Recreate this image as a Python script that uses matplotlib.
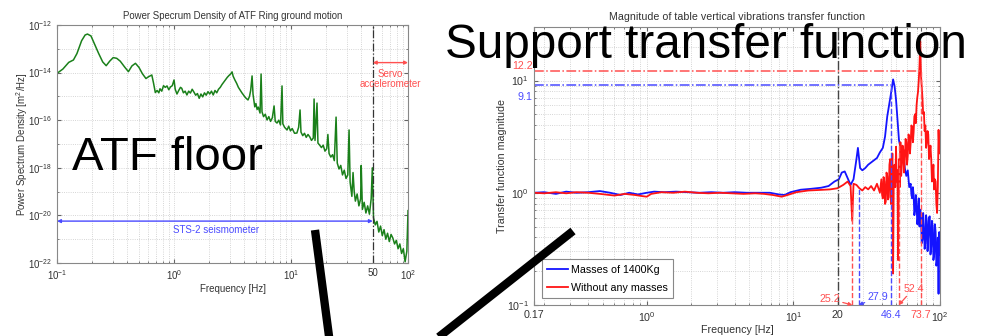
import numpy as np
import matplotlib
matplotlib.use("Agg")
from matplotlib import pyplot as plt
from matplotlib.lines import Line2D
from matplotlib.ticker import LogLocator, NullFormatter, FixedLocator

plt.rcParams['font.family'] = ['Liberation Sans', 'DejaVu Sans']
plt.rcParams['mathtext.default'] = 'regular'

# --- lewy wykres: widmo gestosci mocy ruchu podloza (log10 f, log10 PSD) ---
psd_logf = [-1.00, -0.95, -0.90, -0.86, -0.83, -0.79, -0.76, -0.74, -0.71, -0.68,
            -0.645, -0.61, -0.58, -0.55, -0.52, -0.49, -0.46, -0.42, -0.39, -0.36,
            -0.33, -0.30, -0.27, -0.24, -0.22, -0.19, -0.175, -0.16, -0.145, -0.13,
            -0.12, -0.105, -0.09, -0.075, -0.06, -0.045, -0.03, -0.015, 0.0, 0.01,
            0.025, 0.04, 0.055, 0.066, 0.08, 0.095, 0.11, 0.125, 0.14, 0.155,
            0.17, 0.185, 0.20, 0.215, 0.23, 0.245, 0.26, 0.275, 0.29, 0.305,
            0.32, 0.335, 0.35, 0.365, 0.38, 0.395, 0.41, 0.425, 0.44, 0.455,
            0.47, 0.485, 0.496, 0.505, 0.52, 0.535, 0.55, 0.564, 0.58, 0.595,
            0.61, 0.632, 0.645, 0.655, 0.667, 0.675, 0.69, 0.70, 0.71, 0.72,
            0.735, 0.744, 0.752, 0.765, 0.78, 0.795, 0.81, 0.825, 0.84, 0.855,
            0.865, 0.88, 0.895, 0.91, 0.923, 0.93, 0.945, 0.966, 0.98, 0.995,
            1.01, 1.03, 1.05, 1.065, 1.077, 1.085, 1.10, 1.115, 1.13, 1.145,
            1.16, 1.175, 1.19, 1.197, 1.205, 1.222, 1.23, 1.245, 1.26, 1.275,
            1.29, 1.305, 1.315, 1.325, 1.34, 1.355, 1.37, 1.385, 1.395, 1.41,
            1.425, 1.44, 1.455, 1.47, 1.485, 1.496, 1.505, 1.52, 1.53, 1.54,
            1.55, 1.565, 1.58, 1.595, 1.60, 1.61, 1.625, 1.64, 1.655, 1.67,
            1.685, 1.695, 1.705, 1.72, 1.735, 1.75, 1.765, 1.78, 1.795, 1.81,
            1.825, 1.84, 1.855, 1.87, 1.885, 1.90, 1.915, 1.93, 1.945, 1.96,
            1.975, 1.99, 2.00]
psd_logval = [-14.03, -13.85, -13.57, -13.47, -13.20, -12.66, -12.42, -12.38, -12.46, -12.80,
              -13.19, -13.55, -13.71, -13.52, -13.37, -13.40, -13.52, -13.78, -13.96, -13.72,
              -13.61, -13.78, -14.05, -14.25, -14.18, -14.10, -14.45, -14.84, -14.75, -14.85,
              -14.68, -14.78, -14.55, -14.62, -14.56, -14.72, -14.60, -14.55, -14.31, -14.70,
              -14.90, -14.75, -14.62, -14.66, -14.85, -14.78, -14.94, -14.78, -14.86, -14.70,
              -14.82, -14.95, -14.88, -15.08, -14.90, -15.02, -14.85, -14.95, -14.80, -14.90,
              -14.78, -14.94, -14.75, -14.85, -14.70, -14.62, -14.50, -14.40, -14.30, -14.20,
              -14.12, -14.05, -13.97, -14.15, -14.31, -14.45, -14.62, -14.73, -14.85, -14.95,
              -15.05, -15.15, -15.00, -14.75, -14.14, -14.90, -15.44, -15.30, -15.55, -15.45,
              -15.70, -14.06, -15.65, -15.85, -15.75, -15.99, -15.85, -16.05, -15.90, -15.40,
              -16.05, -16.12, -16.00, -16.20, -14.56, -16.15, -16.30, -16.41, -16.25, -16.45,
              -16.35, -16.55, -16.54, -16.30, -15.57, -16.50, -16.65, -16.55, -16.72, -16.60,
              -16.70, -16.85, -16.75, -15.11, -16.85, -15.28, -16.96, -17.05, -17.15, -17.05,
              -17.30, -17.20, -16.60, -17.40, -17.55, -17.45, -17.70, -15.87, -17.80, -18.05,
              -17.90, -18.30, -18.10, -18.45, -18.30, -16.41, -18.60, -19.20, -18.20, -19.00,
              -19.40, -19.10, -19.60, -19.30, -17.90, -19.75, -19.45, -19.90, -19.60, -19.95,
              -19.30, -18.00, -20.10, -20.40, -20.25, -20.70, -20.45, -20.85, -20.60, -21.00,
              -20.75, -21.10, -20.80, -20.95, -21.20, -21.05, -21.40, -21.20, -21.60, -21.40,
              -21.95, -21.50, -19.80]

# --- prawy wykres: funkcja przenoszenia stolu (log10 f, log10 |H|) ---
blue_logf = [-0.77, -0.70, -0.62, -0.55, -0.48, -0.40, -0.32, -0.25, -0.18, -0.12,
             -0.06, 0.00, 0.05, 0.12, 0.20, 0.28, 0.36, 0.44, 0.52, 0.60,
             0.68, 0.76, 0.84, 0.90, 0.94, 0.98, 1.05, 1.12, 1.19, 1.24,
             1.28, 1.31, 1.33, 1.35, 1.37, 1.39, 1.41, 1.43, 1.44, 1.455,
             1.47, 1.49, 1.51, 1.53, 1.55, 1.57, 1.59, 1.61, 1.625, 1.64,
             1.655, 1.67, 1.68, 1.69, 1.70, 1.71, 1.72, 1.73, 1.74, 1.75,
             1.76, 1.77, 1.78, 1.79, 1.800, 1.805, 1.810, 1.815, 1.820, 1.825,
             1.830, 1.835, 1.840, 1.845, 1.850, 1.855, 1.860, 1.865, 1.870, 1.875,
             1.880, 1.885, 1.890, 1.895, 1.900, 1.905, 1.910, 1.915, 1.920, 1.925,
             1.930, 1.935, 1.940, 1.945, 1.950, 1.955, 1.960, 1.965, 1.970, 1.975,
             1.980, 1.985, 1.990, 1.995, 2.000]
blue_logmag = [0.00, 0.005, -0.01, 0.01, 0.00, 0.005, 0.015, 0.00, -0.02, 0.00,
               -0.015, 0.00, 0.01, 0.005, 0.01, 0.005, 0.00, 0.005, 0.00, 0.005,
               0.00, 0.00, 0.00, -0.015, -0.02, 0.005, 0.027, 0.035, 0.045, 0.06,
               0.10, 0.12, 0.18, 0.19, 0.13, 0.07, 0.12, 0.30, 0.40, 0.22,
               0.20, 0.22, 0.25, 0.27, 0.29, 0.31, 0.36, 0.40, 0.50, 0.68,
               0.80, 0.92, 1.01, 0.95, 0.83, 0.65, 0.47, 0.40, 0.30, 0.35,
               0.22, 0.15, 0.20, 0.05, 0.08, -0.02, -0.05, 0.05, -0.02, -0.20,
               -0.15, -0.02, -0.10, -0.28, -0.22, -0.05, -0.30, -0.15, -0.20, -0.45,
               -0.42, -0.18, -0.30, -0.50, -0.45, -0.20, -0.25, -0.52, -0.38, -0.22,
               -0.21, -0.55, -0.48, -0.25, -0.30, -0.60, -0.55, -0.28, -0.35, -0.65,
               -0.60, -0.40, -0.90, -0.35, -0.55]
red_logf = [-0.77, -0.70, -0.62, -0.55, -0.48, -0.40, -0.32, -0.22, -0.15, -0.08,
            -0.03, 0.00, 0.03, 0.10, 0.18, 0.26, 0.34, 0.42, 0.50, 0.58,
            0.66, 0.74, 0.80, 0.86, 0.92, 0.96, 1.02, 1.10, 1.18, 1.25,
            1.30, 1.34, 1.37, 1.39, 1.401, 1.41, 1.43, 1.45, 1.47, 1.49,
            1.51, 1.53, 1.55, 1.57, 1.59, 1.600, 1.605, 1.610, 1.615, 1.620,
            1.625, 1.630, 1.635, 1.640, 1.645, 1.650, 1.655, 1.660, 1.665, 1.670,
            1.675, 1.680, 1.685, 1.690, 1.695, 1.700, 1.705, 1.710, 1.714, 1.720,
            1.725, 1.730, 1.735, 1.740, 1.745, 1.750, 1.755, 1.760, 1.765, 1.770,
            1.775, 1.780, 1.785, 1.790, 1.795, 1.800, 1.805, 1.810, 1.815, 1.820,
            1.825, 1.830, 1.835, 1.840, 1.845, 1.850, 1.855, 1.860, 1.865, 1.870,
            1.875, 1.880, 1.885, 1.890, 1.895, 1.900, 1.905, 1.910, 1.915, 1.920,
            1.925, 1.930, 1.935, 1.940, 1.945, 1.950, 1.955, 1.960, 1.965, 1.970,
            1.975, 1.980, 1.985, 1.990, 1.995, 2.000]
red_logmag = [0.00, -0.005, 0.005, -0.005, 0.005, 0.00, -0.01, -0.025, -0.01, -0.02,
              -0.03, -0.035, -0.01, 0.005, 0.00, 0.01, 0.00, -0.005, 0.00, -0.005,
              -0.01, -0.005, -0.01, -0.02, -0.035, -0.02, 0.005, 0.02, 0.025, 0.03,
              0.04, 0.07, 0.10, 0.06, -0.25, 0.08, 0.07, 0.04, 0.02, 0.05,
              0.03, 0.06, 0.02, 0.08, 0.00, 0.12, -0.02, -0.05, 0.14, 0.10,
              -0.10, -0.08, 0.18, 0.15, -0.06, -0.04, 0.25, 0.30, -0.10, 0.05,
              0.35, -0.72, 0.20, 0.25, 0.05, 0.41, 0.10, 0.20, -0.60, 0.30,
              0.05, 0.45, 0.15, 0.25, 0.42, 0.38, 0.18, 0.30, 0.48, 0.45,
              0.25, 0.33, 0.52, 0.50, 0.35, 0.45, 0.60, 0.58, 0.45, 0.54,
              0.68, 0.70, 0.62, 0.78, 0.85, 0.90, 1.00, 1.13, 1.35, 1.05,
              0.95, 0.85, 0.70, 0.72, 0.55, 0.60, 0.40, 0.45, 0.55, 0.52,
              0.30, 0.36, 0.42, 0.30, 0.10, 0.15, 0.25, 0.03, 0.12, 0.10,
              -0.10, -0.18, 0.05, 0.56, 0.35, 0.50]

# rezonanse
blue_peak = 9.1
red_peak = 12.2
blue_freqs = [27.9, 46.4]
red_freqs = [25.2, 52.4, 73.7]

BLUE = "#1414ff"
RED = "#ff1414"
BLUE_L = "#4a4aff"
RED_L = "#ff5050"

fig = plt.figure(figsize=(9.87, 3.36), dpi=100)
ax1 = fig.add_axes([0.0578, 0.2173, 0.3556, 0.7083])
ax2 = fig.add_axes([0.541, 0.0923, 0.4114, 0.8274])

grid_kw = dict(color="#c8c8c8", linestyle=":", linewidth=0.6)
for ax in (ax1, ax2):
    ax.set_xscale("log")
    ax.set_yscale("log")
    for s in ax.spines.values():
        s.set_color("#888888")
        s.set_linewidth(0.8)
    ax.tick_params(which="both", direction="in", top=True, right=True,
                   colors="#666666", labelcolor="#333333")
    ax.tick_params(which="major", length=3)
    ax.tick_params(which="minor", length=1.5)
ax1.tick_params(which="both", labelsize=7)
ax2.tick_params(which="both", labelsize=7.7)

# ---- lewy wykres ----
ax1.plot(10.0 ** np.array(psd_logf), 10.0 ** np.array(psd_logval), color="#1a801a", lw=1.1)
ax1.set_xlim(0.1, 100)
ax1.set_ylim(1e-22, 1e-12)
ax1.set_yticks([1e-22, 1e-20, 1e-18, 1e-16, 1e-14, 1e-12])
ax1.yaxis.set_minor_locator(FixedLocator([1e-21, 1e-19, 1e-17, 1e-15, 1e-13]))
ax1.yaxis.set_minor_formatter(NullFormatter())
ax1.set_xticks([0.1, 1, 10, 50, 100])
ax1.set_xticklabels(["$10^{-1}$", "$10^{0}$", "$10^{1}$", "50", "$10^{2}$"])
ax1.xaxis.set_minor_locator(LogLocator(base=10, subs=np.arange(2, 10)))
ax1.xaxis.set_minor_formatter(NullFormatter())
ax1.grid(True, which="both", **grid_kw)
ax1.axvline(50, color="#333333", ls="-.", lw=0.9)
ax1.annotate("", xy=(0.1, 10 ** -20.24), xytext=(50, 10 ** -20.24),
             arrowprops=dict(arrowstyle="<|-|>", color=BLUE_L, lw=1.0,
                             mutation_scale=5, shrinkA=0, shrinkB=0))
ax1.text(2.3, 10 ** -20.6, "STS-2 seismometer", color=BLUE_L, fontsize=7,
         ha="center", va="center")
ax1.annotate("", xy=(50, 10 ** -13.58), xytext=(100, 10 ** -13.58),
             arrowprops=dict(arrowstyle="<|-|>", color=RED_L, lw=1.0,
                             mutation_scale=5, shrinkA=0, shrinkB=0))
ax1.text(71, 10 ** -14.25, "Servo\naccelerometer", color=RED_L, fontsize=7,
         ha="center", va="center", linespacing=1.0)
ax1.set_title("Power Specrum Density of ATF Ring ground motion", fontsize=6.9,
              color="#333333", pad=4.5)
ax1.set_xlabel("Frequency [Hz]", fontsize=7, color="#333333", labelpad=2)
ax1.set_ylabel("Power Spectrum Density [m$^2$/Hz]", fontsize=7, color="#333333")
ax1.yaxis.set_label_coords(-0.078, 0.5)

# ---- prawy wykres ----
ax2.plot(10.0 ** np.array(blue_logf), 10.0 ** np.array(blue_logmag), color=BLUE,
         lw=1.3, label="Masses of 1400Kg")
ax2.plot(10.0 ** np.array(red_logf), 10.0 ** np.array(red_logmag), color=RED,
         lw=1.3, label="Without any masses")
ax2.set_xlim(0.17, 100)
ax2.set_ylim(0.1, 30)
ax2.set_yticks([0.1, 1, 10])
ax2.set_yticklabels(["$10^{-1}$", "$10^{0}$", "$10^{1}$"])
ax2.yaxis.set_minor_locator(LogLocator(base=10, subs=np.arange(2, 10)))
ax2.yaxis.set_minor_formatter(NullFormatter())
xt = [0.17, 1, 10, 20, 46.4, 73.7, 100]
ax2.set_xticks(xt)
ax2.set_xticklabels(["0.17", "$10^{0}$", "$10^{1}$", "20", "46.4", "73.7", "$10^{2}$"])
ax2.get_xticklabels()[4].set_color(BLUE_L)
ax2.get_xticklabels()[5].set_color(RED_L)
ax2.xaxis.set_minor_locator(LogLocator(base=10, subs=np.arange(2, 10)))
ax2.xaxis.set_minor_formatter(NullFormatter())
ax2.grid(True, which="both", **grid_kw)
ax2.axvline(20, color="#444444", ls="-.", lw=1.0)

ax2.plot([0.17, red_freqs[2]], [red_peak, red_peak], color=RED_L, ls="-.", lw=1.1)
ax2.plot([0.17, blue_freqs[1]], [blue_peak, blue_peak], color=BLUE_L, ls="-.", lw=1.1)
ax2.plot([red_freqs[0]] * 2, [0.1, 0.85], color=RED_L, ls="--", lw=1.0)
ax2.plot([red_freqs[1]] * 2, [0.1, 2.8], color=RED_L, ls="--", lw=1.0)
ax2.plot([red_freqs[2]] * 2, [0.1, red_peak], color=RED_L, ls="--", lw=1.0)
ax2.plot([blue_freqs[0]] * 2, [0.1, 1.1], color=BLUE_L, ls="--", lw=1.0)
ax2.plot([blue_freqs[1]] * 2, [0.1, blue_peak], color=BLUE_L, ls="--", lw=1.0)

ax2.text(0.166, 13.5, "12.2", color=RED_L, fontsize=7.7, ha="right", va="center")
ax2.text(0.166, 7.2, "9.1", color=BLUE_L, fontsize=7.7, ha="right", va="center")

arr = dict(arrowstyle="-|>", lw=0.9, mutation_scale=5, shrinkA=0, shrinkB=0)
ax2.annotate("25.2", xy=(25.2, 0.1), xytext=(20.8, 0.113), color=RED_L,
             fontsize=7.7, ha="right", va="center",
             arrowprops=dict(color=RED_L, **arr))
ax2.annotate("27.9", xy=(27.9, 0.1), xytext=(32.0, 0.117), color=BLUE_L,
             fontsize=7.7, ha="left", va="center",
             arrowprops=dict(color=BLUE_L, **arr))
ax2.annotate("52.4", xy=(52.4, 0.1), xytext=(56.0, 0.14), color=RED_L,
             fontsize=7.7, ha="left", va="center",
             arrowprops=dict(color=RED_L, **arr))

leg = ax2.legend(loc="lower left", bbox_to_anchor=(0.02, 0.025), borderaxespad=0,
                 fontsize=7.7, fancybox=False, framealpha=1, edgecolor="#888888",
                 handlelength=1.9, handletextpad=0.3, labelspacing=0.75,
                 borderpad=0.5)
leg.get_frame().set_linewidth(0.8)
ax2.set_title("Magnitude of table vertical vibrations transfer function", fontsize=7.7,
              color="#333333", pad=5)
ax2.set_xlabel("Frequency [Hz]", fontsize=7.7, color="#333333", labelpad=1)
ax2.set_ylabel("Transfer function magnitude", fontsize=7.7, color="#333333")
ax2.yaxis.set_label_coords(-0.066, 0.5)

# ---- duze napisy i linie ze slajdu ----
fig.text(72 / 987, 1 - 170 / 336, "ATF floor", fontsize=34, color="black",
         ha="left", va="baseline")
fig.text(445 / 987, 1 - 58 / 336, "Support transfer function", fontsize=34.3,
         color="black", ha="left", va="baseline")
fig.add_artist(Line2D([315 / 987, 329.5 / 987], [1 - 230 / 336, 1 - 340 / 336],
                      transform=fig.transFigure, color="black", lw=6,
                      solid_capstyle="butt"))
fig.add_artist(Line2D([573 / 987, 435 / 987], [1 - 231 / 336, 1 - 340 / 336],
                      transform=fig.transFigure, color="black", lw=6,
                      solid_capstyle="butt"))

plt.savefig("out.png", dpi=100)
plt.close()
